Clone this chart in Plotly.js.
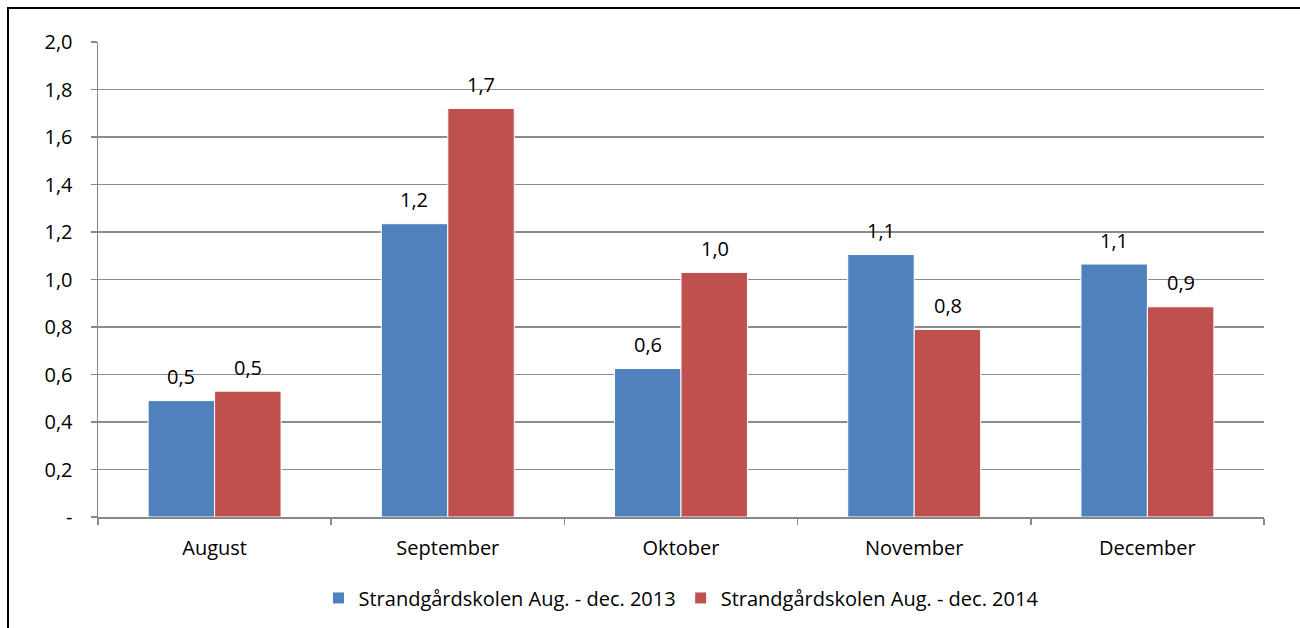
<!DOCTYPE html>
<html>
<head>
<meta charset="utf-8">
<script src="https://cdn.plot.ly/plotly-3.0.1.min.js"></script>
<style>
  html, body { margin: 0; padding: 0; background: #fff; }
  #chart { position: absolute; left: 0; top: 0; width: 1300px; height: 628px; }
  #frame { position: absolute; left: 7px; top: 7px; width: 1310px; height: 640px;
           border-left: 2px solid #000; border-top: 2px solid #000; pointer-events: none; }
</style>
</head>
<body>
<div id="chart"></div>
<div id="frame"></div>
<script>
const categories = ["August", "September", "Oktober", "November", "December"];
const series2013 = [0.49, 1.235, 0.625, 1.105, 1.065];
const series2014 = [0.53, 1.72, 1.03, 0.79, 0.885];
const seriesNames = ["Strandgårdskolen Aug. - dec. 2013", "Strandgårdskolen Aug. - dec. 2014"];
const yTickVals = [0, 0.2, 0.4, 0.6, 0.8, 1.0, 1.2, 1.4, 1.6, 1.8, 2.0];
const yTickText = ["-", "0,2", "0,4", "0,6", "0,8", "1,0", "1,2", "1,4", "1,6", "1,8", "2,0"];

const FONT = "'Open Sans', Carlito, Lato, sans-serif";
const FS = 20;
const fmt = v => v.toFixed(1).replace(".", ",");

const traces = [
  { type: "bar", name: seriesNames[0], x: categories, y: series2013,
    marker: { color: "#4F81BD", line: { color: "#ffffff", width: 1 } }, hoverinfo: "none" },
  { type: "bar", name: seriesNames[1], x: categories, y: series2014,
    marker: { color: "#C0504D", line: { color: "#ffffff", width: 1 } }, hoverinfo: "none" }
];

const annotations = [];
[series2013, series2014].forEach((s, si) => {
  s.forEach((v, i) => {
    annotations.push({
      x: categories[i], y: v, xref: "x", yref: "y", text: fmt(v), showarrow: false,
      xshift: si === 0 ? -33.5 : 33.5, yshift: 24,
      font: { family: FONT, size: FS, color: "#000" }
    });
  });
});

const layout = {
  width: 1300, height: 628,
  margin: { l: 98, r: 36, t: 42, b: 110 },
  paper_bgcolor: "#fff", plot_bgcolor: "#fff",
  barmode: "group", bargap: 0.43, bargroupgap: 0,
  showlegend: true,
  legend: { orientation: "h", x: 0.5, xanchor: "center", y: -0.168, yanchor: "middle",
            font: { family: FONT, size: FS, color: "#000" }, traceorder: "normal",
            itemwidth: 30 },
  xaxis: { type: "category", showline: true, linecolor: "#888", linewidth: 1.5,
           ticks: "outside", tickson: "boundaries", ticklen: 6, tickcolor: "#888", tickwidth: 1.5,
           ticklabelstandoff: 12,
           tickfont: { family: FONT, size: FS, color: "#000" }, showgrid: false, fixedrange: true },
  yaxis: { range: [0, 2], tickvals: yTickVals, ticktext: yTickText, showline: true,
           linecolor: "#888", linewidth: 1.5, ticks: "outside", ticklen: 6, tickcolor: "#888",
           tickwidth: 1.5, showgrid: true, gridcolor: "#8c8c8c", gridwidth: 1.5, zeroline: false,
           ticklabelstandoff: 14,
           tickfont: { family: FONT, size: FS, color: "#000" }, fixedrange: true },
  annotations: annotations
};

Plotly.newPlot("chart", traces, layout, { displayModeBar: false, staticPlot: true });
</script>
</body>
</html>
